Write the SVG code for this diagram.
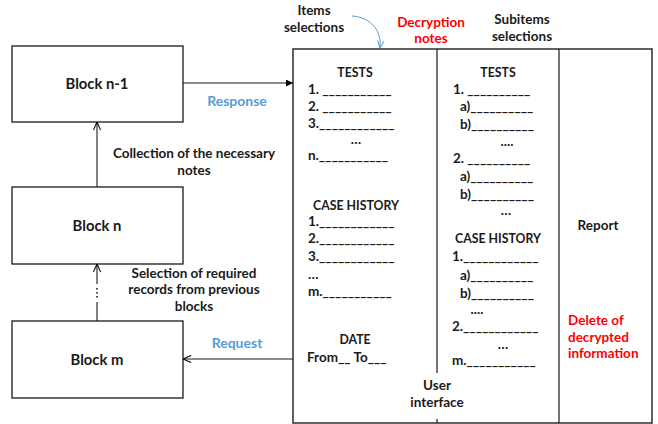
<svg xmlns="http://www.w3.org/2000/svg" width="658" height="424" viewBox="0 0 658 424">
  <defs>
    <marker id="arrowFilled" viewBox="0 0 10 10" refX="10" refY="5" markerWidth="7" markerHeight="7" markerUnits="userSpaceOnUse" orient="auto">
      <path d="M0,0 L10,5 L0,10 z" fill="#000"/>
    </marker>
    <marker id="arrowOpen" viewBox="0 0 10 10" refX="10" refY="5" markerWidth="9" markerHeight="9" markerUnits="userSpaceOnUse" orient="auto">
      <path d="M1,1 L10,5 L1,9" fill="none" stroke="#000" stroke-width="1.2"/>
    </marker>
    <marker id="arrowBlue" viewBox="0 0 10 10" refX="10" refY="5" markerWidth="8" markerHeight="8" markerUnits="userSpaceOnUse" orient="auto">
      <path d="M1,1 L10,5 L1,9" fill="none" stroke="#5B9BD5" stroke-width="1.2"/>
    </marker>
  </defs>
  <style>
    text { font-family: Lato, "Open Sans", "Liberation Sans", sans-serif; font-weight: bold; font-size: 13.5px; fill: #1a1a1a; }
    .block { fill: #fff; stroke: #1a1a1a; stroke-width: 1.3; }
    .panel { fill: #fff; stroke: #3a3a3a; stroke-width: 1.6; }
    .divider { stroke: #1a1a1a; stroke-width: 1.2; fill: none; }
    .blockLabel { font-size: 14.8px; text-anchor: middle; }
    .mid { text-anchor: middle; }
    .caps { font-size: 12.3px; }
    .blue { fill: #5B9BD5; font-size: 14px; }
    .red { fill: #FF0000; }
    .conn { stroke: #1a1a1a; stroke-width: 1.1; fill: none; }
  </style>

  <rect width="658" height="424" fill="#fff"/>

  <!-- blocks of the chain -->
  <g id="block-n-1">
    <rect class="block" x="12" y="46" width="171" height="76"/>
    <text class="blockLabel" x="97" y="89">Block n-1</text>
  </g>
  <g id="block-n">
    <rect class="block" x="12" y="187" width="171" height="77"/>
    <text class="blockLabel" x="97" y="231">Block n</text>
  </g>
  <g id="block-m">
    <rect class="block" x="12" y="321" width="171" height="77"/>
    <text class="blockLabel" x="97" y="365">Block m</text>
  </g>

  <!-- user interface panel -->
  <g id="user-interface">
    <rect class="panel" x="293" y="49" width="359" height="374"/>
    <path class="divider" d="M437,49 V373 M437,419 V423 M559,49 V423"/>
    <text class="mid" x="437" y="390">User</text>
    <text class="mid" x="437" y="407">interface</text>

    <!-- item selections column -->
    <text class="mid caps" x="355" y="77">TESTS</text>
    <text x="308" y="94">1. ___________</text>
    <text x="308" y="111">2. ___________</text>
    <text x="308" y="128">3.____________</text>
    <text class="mid" x="356" y="144">…</text>
    <text x="308" y="160">n.___________</text>

    <text class="mid caps" x="356" y="210">CASE HISTORY</text>
    <text x="308" y="226">1.____________</text>
    <text x="308" y="243">2.____________</text>
    <text x="308" y="261">3.____________</text>
    <text x="308" y="279">…</text>
    <text x="308" y="296">m.___________</text>

    <text class="mid caps" x="355" y="344">DATE</text>
    <text x="307" y="362">From__ To___</text>

    <!-- subitem selections column -->
    <text class="mid caps" x="498" y="77">TESTS</text>
    <text x="453" y="94">1. __________</text>
    <text x="460" y="111">a)__________</text>
    <text x="460" y="129">b)__________</text>
    <text class="mid" x="507" y="146">....</text>
    <text x="453" y="163">2. __________</text>
    <text x="460" y="181">a)__________</text>
    <text x="460" y="199">b)__________</text>
    <text class="mid" x="506" y="215">…</text>

    <text class="mid caps" x="498" y="243">CASE HISTORY</text>
    <text x="452" y="261">1.____________</text>
    <text x="460" y="280">a)__________</text>
    <text x="460" y="298">b)__________</text>
    <text class="mid" x="477" y="314">....</text>
    <text x="452" y="331">2.____________</text>
    <text class="mid" x="503" y="349">…</text>
    <text x="452" y="365">m.___________</text>

    <!-- report column -->
    <text class="mid" x="598" y="230">Report</text>
    <text class="red" x="568" y="325">Delete of</text>
    <text class="red" x="568" y="342">decrypted</text>
    <text class="red" x="568" y="358">information</text>
  </g>

  <!-- column headings above the panel -->
  <g id="headings">
    <text class="mid" x="314" y="15">Items</text>
    <text class="mid" x="314" y="32">selections</text>
    <text class="mid red" x="431" y="27">Decryption</text>
    <text class="mid red" x="431" y="43">notes</text>
    <text class="mid" x="522" y="24">Subitems</text>
    <text class="mid" x="522" y="41">selections</text>
  </g>

  <!-- connectors -->
  <g id="connectors">
    <path class="conn" d="M183,83 H293" marker-end="url(#arrowFilled)"/>
    <path class="conn" d="M293,359 H183" marker-end="url(#arrowOpen)"/>
    <path class="conn" d="M97,187 V122" marker-end="url(#arrowOpen)"/>
    <path class="conn" d="M97,321 V302"/>
    <path class="conn" d="M97,284 V264" marker-end="url(#arrowOpen)"/>
    <path d="M97,288 V298" stroke="#1a1a1a" stroke-width="1.6" stroke-dasharray="1.6,2.4" fill="none"/>
    <path d="M352,16 C370,17 382,30 380,48" stroke="#5B9BD5" stroke-width="1" fill="none" marker-end="url(#arrowBlue)"/>
    <text class="mid blue" x="237" y="106">Response</text>
    <text class="mid" x="194" y="158">Collection of the necessary</text>
    <text class="mid" x="194" y="175">notes</text>
    <text class="mid" x="194" y="278">Selection of required</text>
    <text class="mid" x="194" y="294">records from previous</text>
    <text class="mid" x="194" y="311">blocks</text>
    <text class="mid blue" x="237" y="348">Request</text>
  </g>
</svg>
